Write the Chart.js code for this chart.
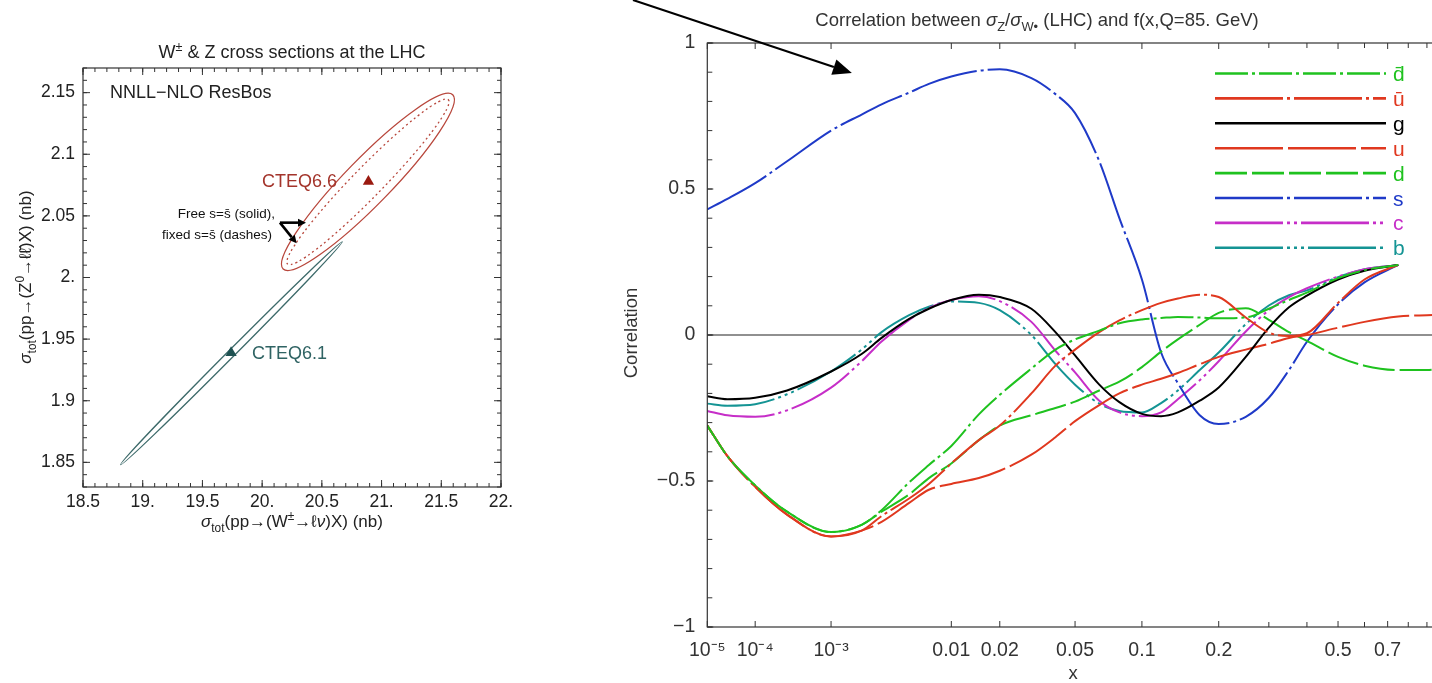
<!DOCTYPE html>
<html>
<head>
<meta charset="utf-8">
<script src="https://cdn.jsdelivr.net/npm/chart.js@4/dist/chart.umd.min.js"></script>
<style>
  html, body { margin: 0; padding: 0; background: #fff; overflow: hidden; width: 1432px; height: 683px; }
  #wz { position: absolute; left: 0; top: 0; }
  #corr { position: absolute; left: 600px; top: 0; }
</style>
</head>
<body>
<canvas id="wz" width="540" height="560"></canvas>
<canvas id="corr" width="860" height="683"></canvas>
<script>
// ---------------- left panel: W and Z cross sections ----------------
const wzXTicks = [18.5, 19, 19.5, 20, 20.5, 21, 21.5, 22];
const wzXTickLabels = ['18.5', '19.', '19.5', '20.', '20.5', '21.', '21.5', '22.'];
const wzYTicks = [1.85, 1.9, 1.95, 2.0, 2.05, 2.1, 2.15];
const wzYTickLabels = ['1.85', '1.9', '1.95', '2.', '2.05', '2.1', '2.15'];
const cteq66Central = [20.89, 2.078];
const cteq61Central = [19.74, 1.939];
// error ellipses: [centre, end of major axis, end of minor axis] in nb
const cteq66Free = [[20.886, 2.0776], [21.596, 2.1483], [21.022, 2.0644]];
const cteq66Fixed = [[20.886, 2.0776], [21.559, 2.1443], [20.975, 2.0690]];
const cteq61Free = [[19.743, 1.9385], [20.671, 2.029], [19.764, 1.9365]];
const noteArrowTail = [20.149, 2.0445];
const noteArrowHeads = [[20.367, 2.0445], [20.289, 2.0277]];

// ---------------- right panel: correlation cosines ----------------
const xGrid = [1e-5, 3e-5, 1e-4, 3e-4, 1e-3, 2e-3, 3e-3, 5e-3, 7e-3, 0.01, 0.015, 0.02, 0.03, 0.04,
               0.05, 0.065, 0.08, 0.1, 0.12, 0.14, 0.17, 0.2, 0.25, 0.3, 0.35, 0.4, 0.5, 0.6, 0.75];
const xGridLong = xGrid.concat([0.9, 1.0]);
const dbarCorr = [-0.31, -0.415, -0.515, -0.605, -0.675, -0.65, -0.6, -0.505, -0.445, -0.38, -0.272, -0.205, -0.115, -0.05,
                  -0.015, 0.015, 0.04, 0.053, 0.058, 0.062, 0.06, 0.057, 0.06, 0.09, 0.12, 0.145, 0.195, 0.222, 0.24];
const ubarCorr = [-0.31, -0.415, -0.52, -0.615, -0.69, -0.67, -0.62, -0.56, -0.51, -0.44, -0.36, -0.31, -0.2, -0.105,
                  -0.05, 0.01, 0.05, 0.085, 0.11, 0.125, 0.138, 0.13, 0.06, 0.008, -0.003, 0.006, 0.11, 0.19, 0.24];
const gCorr = [-0.21, -0.22, -0.215, -0.19, -0.125, -0.065, -0.01, 0.055, 0.09, 0.12, 0.138, 0.13, 0.09, 0.01,
               -0.07, -0.17, -0.23, -0.27, -0.278, -0.265, -0.225, -0.18, -0.075, 0.025, 0.095, 0.135, 0.19, 0.22, 0.24];
const uCorr = [-0.31, -0.415, -0.52, -0.615, -0.69, -0.67, -0.64, -0.575, -0.53, -0.51, -0.49, -0.465, -0.41, -0.35,
               -0.295, -0.24, -0.2, -0.17, -0.15, -0.13, -0.1, -0.075, -0.05, -0.03, -0.01, 0.0, 0.025, 0.045, 0.063, 0.068, 0.07];
const dCorr = [-0.31, -0.415, -0.515, -0.605, -0.675, -0.65, -0.605, -0.546, -0.49, -0.44, -0.36, -0.31, -0.275, -0.25,
               -0.228, -0.19, -0.16, -0.11, -0.057, -0.015, 0.035, 0.076, 0.092, 0.052, 0.01, -0.02, -0.075, -0.105, -0.12, -0.12, -0.115];
const sCorr = [0.43, 0.466, 0.52, 0.595, 0.70, 0.755, 0.79, 0.83, 0.86, 0.885, 0.905, 0.91, 0.88, 0.825,
               0.76, 0.595, 0.40, 0.19, -0.06, -0.165, -0.275, -0.305, -0.28, -0.215, -0.12, -0.023, 0.105, 0.18, 0.24];
const cCorr = [-0.26, -0.275, -0.28, -0.258, -0.18, -0.09, -0.022, 0.052, 0.093, 0.12, 0.133, 0.116, 0.045, -0.054,
               -0.128, -0.225, -0.265, -0.278, -0.265, -0.22, -0.155, -0.09, 0.012, 0.085, 0.13, 0.16, 0.2, 0.225, 0.24];
const bCorr = [-0.235, -0.242, -0.237, -0.203, -0.125, -0.05, 0.01, 0.068, 0.097, 0.115, 0.11, 0.085, 0.0, -0.1,
               -0.17, -0.235, -0.26, -0.265, -0.233, -0.19, -0.12, -0.06, 0.037, 0.101, 0.136, 0.153, 0.198, 0.225, 0.24];
const corrXTicks = [1e-5, 1e-4, 1e-3, 0.01, 0.02, 0.05, 0.1, 0.2, 0.5, 0.7];
const corrXTickLabels = ['10\u207B\u2075', '10\u207B\u2074', '10\u207B\u00B3', '0.01', '0.02', '0.05', '0.1', '0.2', '0.5', '0.7'];
const corrXMinor = [0.3, 0.4, 0.6, 0.8, 0.9, 1.0];
const corrYTicks = [-1, -0.5, 0, 0.5, 1];
const corrYTickLabels = ['\u22121', '\u22120.5', '0', '0.5', '1'];
const pointerTail = [6.65e-11, 1.147];
const pointerTip = [0.00162, 0.897];

// ---------- helpers ----------
function drawRich(ctx, segs, x, y, o) {
  const size = o.size, fam = o.family;
  ctx.save();
  ctx.translate(x, y);
  if (o.rotate) ctx.rotate(o.rotate);
  if (o.sx) ctx.scale(o.sx, 1);
  ctx.fillStyle = o.color || '#222';
  ctx.textBaseline = 'alphabetic';
  ctx.textAlign = 'left';
  const fontOf = s => (s.it ? 'italic ' : '') + ((s.sub || s.sup) ? size * 0.7 : size) + 'px ' + fam;
  let total = 0;
  const widths = segs.map(s => { ctx.font = fontOf(s); const w = ctx.measureText(s.t).width; total += w; return w; });
  let cx = o.align === 'center' ? -total / 2 : (o.align === 'right' ? -total : 0);
  const base = size * 0.36;
  segs.forEach((s, i) => {
    ctx.font = fontOf(s);
    const dy = s.sub ? size * 0.28 : (s.sup ? -size * 0.42 : 0);
    ctx.fillText(s.t, cx, base + dy);
    cx += widths[i];
  });
  ctx.restore();
}

function arrow(ctx, x0, y0, x1, y1, len, half, width) {
  const ang = Math.atan2(y1 - y0, x1 - x0);
  const bx = x1 - len * Math.cos(ang), by = y1 - len * Math.sin(ang);
  ctx.lineWidth = width;
  ctx.beginPath(); ctx.moveTo(x0, y0); ctx.lineTo(bx, by); ctx.stroke();
  ctx.beginPath();
  ctx.moveTo(x1, y1);
  ctx.lineTo(bx + half * Math.sin(ang), by - half * Math.cos(ang));
  ctx.lineTo(bx - half * Math.sin(ang), by + half * Math.cos(ang));
  ctx.closePath(); ctx.fill();
}

// inward tick marks on all four sides plus the frame
const frameTicks = {
  id: 'frameTicks',
  afterDatasetsDraw(chart, args, o) {
    const { ctx, chartArea: a, scales } = chart;
    ctx.save();
    ctx.strokeStyle = o.color; ctx.lineWidth = 1;
    const X = scales.x, Y = scales.y;
    const vx = (v, len) => { const p = X.getPixelForValue(v);
      ctx.beginPath(); ctx.moveTo(p, a.bottom); ctx.lineTo(p, a.bottom - len);
      ctx.moveTo(p, a.top); ctx.lineTo(p, a.top + len); ctx.stroke(); };
    const vy = (v, len) => { const p = Y.getPixelForValue(v);
      ctx.beginPath(); ctx.moveTo(a.left, p); ctx.lineTo(a.left + len, p);
      ctx.moveTo(a.right, p); ctx.lineTo(a.right - len, p); ctx.stroke(); };
    o.xMajor.forEach(v => vx(v, o.majorLen));
    o.xMinor.forEach(v => vx(v, o.minorLen));
    o.yMajor.forEach(v => vy(v, o.majorLen));
    o.yMinor.forEach(v => vy(v, o.minorLen));
    ctx.lineWidth = o.frameWidth;
    ctx.strokeRect(a.left, a.top, a.right - a.left, a.bottom - a.top);
    ctx.restore();
  }
};

// free-standing texts
const richText = {
  id: 'richText',
  afterDraw(chart, args, o) {
    o.items.forEach(it => drawRich(chart.ctx, it.segs, it.x, it.y, Object.assign({ family: o.family }, it)));
  }
};

// ---------- left chart ----------
const wzEllipses = {
  id: 'wzEllipses',
  beforeDatasetsDraw(chart, args, o) {
    const { ctx, scales: { x, y } } = chart;
    const P = d => [x.getPixelForValue(d[0]), y.getPixelForValue(d[1])];
    ctx.save();
    o.items.forEach(e => {
      const c = P(e.pts[0]), t = P(e.pts[1]), m = P(e.pts[2]);
      const ra = Math.hypot(t[0] - c[0], t[1] - c[1]);
      const rb = Math.hypot(m[0] - c[0], m[1] - c[1]);
      const rot = Math.atan2(t[1] - c[1], t[0] - c[0]);
      ctx.strokeStyle = e.color; ctx.lineWidth = e.width; ctx.setLineDash(e.dash || []);
      ctx.beginPath(); ctx.ellipse(c[0], c[1], ra, rb, rot, 0, Math.PI * 2); ctx.stroke();
    });
    ctx.setLineDash([]);
    ctx.strokeStyle = '#000'; ctx.fillStyle = '#000';
    const t0 = P(o.tail);
    o.heads.forEach(h => { const p = P(h); arrow(ctx, t0[0], t0[1], p[0], p[1], 8, 4, 2.6); });
    ctx.restore();
  }
};

const wzMinorX = []; for (let i = 0; i <= 35; i++) wzMinorX.push(18.5 + i * 0.1);
const wzMinorY = []; for (let i = 0; i <= 34; i++) wzMinorY.push(1.83 + i * 0.01);
const sansFam = '"Liberation Sans", Arial, sans-serif';

new Chart(document.getElementById('wz'), {
  type: 'scatter',
  data: {
    datasets: [
      { label: 'CTEQ6.6', data: [{ x: cteq66Central[0], y: cteq66Central[1] }], pointStyle: 'triangle',
        pointRadius: 6.5, backgroundColor: '#9a1a10', borderWidth: 0 },
      { label: 'CTEQ6.1', data: [{ x: cteq61Central[0], y: cteq61Central[1] }], pointStyle: 'triangle',
        pointRadius: 6.5, backgroundColor: '#1f5252', borderWidth: 0 }
    ]
  },
  options: {
    responsive: false, animation: false, devicePixelRatio: 1,
    layout: { padding: { left: 0, right: 39, top: 68, bottom: 0 } },
    plugins: {
      legend: { display: false }, tooltip: { enabled: false }, title: { display: false },
      wzEllipses: {
        items: [
          { pts: cteq66Free, color: '#b8473c', width: 1.3 },
          { pts: cteq66Fixed, color: '#b8473c', width: 1.3, dash: [2, 3] },
          { pts: cteq61Free, color: '#3d6a6a', width: 1.3 }
        ],
        tail: noteArrowTail, heads: noteArrowHeads
      },
      frameTicks: { color: '#333', frameWidth: 1.2, majorLen: 7, minorLen: 4,
        xMajor: wzXTicks, xMinor: wzMinorX, yMajor: wzYTicks, yMinor: wzMinorY },
      richText: {
        family: sansFam,
        items: [
          { segs: [{ t: 'W' }, { t: '\u00B1', sup: true }, { t: ' & Z cross sections at the LHC' }], x: 292, y: 52, size: 18, align: 'center', color: '#222' },
          { segs: [{ t: 'NNLL\u2212NLO ResBos' }], x: 110, y: 92, size: 18, align: 'left', color: '#222' },
          { segs: [{ t: 'CTEQ6.6' }], x: 262, y: 181, size: 18, align: 'left', color: '#a3342b' },
          { segs: [{ t: 'CTEQ6.1' }], x: 252, y: 353, size: 18, align: 'left', color: '#2f6363' },
          { segs: [{ t: 'Free s=s\u0304 (solid),' }], x: 275, y: 213, size: 13.5, align: 'right', color: '#111' },
          { segs: [{ t: 'fixed s=s\u0304 (dashes)' }], x: 272, y: 234, size: 13.5, align: 'right', color: '#111' },
          { segs: [{ t: '\u03C3', it: true }, { t: 'tot', sub: true }, { t: '(pp\u2192(W' }, { t: '\u00B1', sup: true },
                   { t: '\u2192\u2113' }, { t: '\u03BD', it: true }, { t: ')X) (nb)' }], x: 292, y: 521, size: 17, align: 'center', color: '#222' },
          { segs: [{ t: '\u03C3', it: true }, { t: 'tot', sub: true }, { t: '(pp\u2192(Z' }, { t: '0', sup: true },
                   { t: '\u2192\u2113\u2113\u0304)X) (nb)' }], x: 25, y: 277, size: 17, align: 'center', rotate: -Math.PI / 2, color: '#222' }
        ]
      }
    },
    scales: {
      x: { type: 'linear', min: 18.5, max: 22,
        afterFit: s => { s.height = 73; },
        afterBuildTicks: s => { s.ticks = wzXTicks.map(v => ({ value: v })); },
        grid: { display: false, drawTicks: false }, border: { display: false },
        ticks: { autoSkip: false, maxRotation: 0, padding: 5, color: '#222',
          font: { family: sansFam, size: 17.5 }, callback: (v, i) => wzXTickLabels[i] } },
      y: { type: 'linear', min: 1.83, max: 2.17,
        afterFit: s => { s.width = 83; },
        afterBuildTicks: s => { s.ticks = wzYTicks.map(v => ({ value: v })); },
        grid: { display: false, drawTicks: false }, border: { display: false },
        ticks: { autoSkip: false, padding: 8, color: '#222',
          font: { family: sansFam, size: 17.5 }, callback: (v, i) => wzYTickLabels[i] } }
    }
  },
  plugins: [wzEllipses, frameTicks, richText]
});

// ---------- right chart ----------
// x axis drawn uniformly in x^p
class PowerScale extends Chart.LinearScale {
  determineDataLimits() { this.min = this.options.min; this.max = this.options.max; }
  buildTicks() { this.start = this.min; this.end = this.max; return (this.options.tickValues || []).map(v => ({ value: v })); }
  configure() {
    super.configure();
    const p = this.options.exponent;
    this._startValue = Math.pow(this.min, p);
    this._endValue = Math.pow(this.max, p);
    this._valueRange = this._endValue - this._startValue;
  }
  getPixelForValue(v) {
    const p = this.options.exponent;
    return this.getPixelForDecimal((Math.pow(v, p) - this._startValue) / this._valueRange);
  }
  getValueForPixel(px) {
    const p = this.options.exponent;
    return Math.pow(this._startValue + this.getDecimalForPixel(px) * this._valueRange, 1 / p);
  }
}
PowerScale.id = 'power';
Chart.register(PowerScale);

const corrLegend = {
  id: 'corrLegend',
  afterDatasetsDraw(chart, args, o) {
    const { ctx } = chart;
    ctx.save();
    o.order.forEach((idx, k) => {
      const ds = chart.data.datasets[idx];
      const y = o.y0 + k * o.dy;
      ctx.strokeStyle = ds.borderColor; ctx.lineWidth = 2.6; ctx.setLineDash(ds.borderDash || []);
      ctx.beginPath(); ctx.moveTo(o.x0, y); ctx.lineTo(o.x1, y); ctx.stroke();
      ctx.setLineDash([]);
      drawRich(ctx, [{ t: ds.label }], o.x1 + 7, y, { size: o.size, family: o.family, color: ds.borderColor, align: 'left' });
    });
    // pointer arrow
    const X = chart.scales.x, Y = chart.scales.y;
    ctx.strokeStyle = '#000'; ctx.fillStyle = '#000';
    arrow(ctx, X.getPixelForValue(o.tail[0]), Y.getPixelForValue(o.tail[1]),
          X.getPixelForValue(o.tip[0]), Y.getPixelForValue(o.tip[1]), 19, 8, 2.2);
    ctx.restore();
  }
};

const zeroLine = {
  id: 'zeroLine',
  beforeDatasetsDraw(chart) {
    const { ctx, chartArea: a } = chart;
    const p = chart.scales.y.getPixelForValue(0);
    ctx.save(); ctx.strokeStyle = '#222'; ctx.lineWidth = 1.2;
    ctx.beginPath(); ctx.moveTo(a.left, p); ctx.lineTo(a.right, p); ctx.stroke(); ctx.restore();
  }
};

const narrowFam = '"Liberation Sans Narrow", "Liberation Sans", Arial, sans-serif';
const GREEN = '#1fc21f', RED = '#e0381f', BLUE = '#1f3ac8', MAGENTA = '#c62ec8', TEAL = '#149494';
const curve = (label, xs, ys, color, dash) => ({
  label, data: xs.map((x, i) => ({ x, y: ys[i] })), borderColor: color, borderDash: dash,
  borderWidth: 2, pointRadius: 0, fill: false, cubicInterpolationMode: 'monotone'
});
const corrMinorY = []; for (let i = -10; i <= 10; i++) corrMinorY.push(i / 10);

new Chart(document.getElementById('corr'), {
  type: 'line',
  data: {
    datasets: [
      curve('d\u0304', xGrid, dbarCorr, GREEN, [33, 4, 3, 4]),
      curve('u\u0304', xGrid, ubarCorr, RED, [68, 4, 3, 4]),
      curve('g', xGrid, gCorr, '#000', []),
      curve('u', xGridLong, uCorr, RED, [68, 5]),
      curve('d', xGridLong, dCorr, GREEN, [32, 5]),
      curve('s', xGrid, sCorr, BLUE, [68, 4, 3, 4]),
      curve('c', xGrid, cCorr, MAGENTA, [68, 4, 3, 4, 3, 4]),
      curve('b', xGrid, bCorr, TEAL, [68, 4, 3, 4, 3, 4, 3, 4])
    ]
  },
  options: {
    responsive: false, animation: false, devicePixelRatio: 1,
    layout: { padding: { left: 0, right: 16, top: 43, bottom: 0 } },
    plugins: {
      legend: { display: false }, tooltip: { enabled: false }, title: { display: false },
      frameTicks: { color: '#333', frameWidth: 1.2, majorLen: 6, minorLen: 5,
        xMajor: corrXTicks, xMinor: corrXMinor, yMajor: corrYTicks, yMinor: corrMinorY },
      corrLegend: { order: [0, 1, 2, 3, 4, 5, 6, 7], x0: 615, x1: 786, y0: 73.5, dy: 24.9, size: 21, family: narrowFam,
        tail: pointerTail, tip: pointerTip },
      richText: {
        family: narrowFam,
        items: [
          { segs: [{ t: 'Correlation between ' }, { t: '\u03C3', it: true }, { t: 'Z', sub: true }, { t: '/' },
                   { t: '\u03C3', it: true }, { t: 'W\u2022', sub: true }, { t: ' (LHC) and f(x,Q=85. GeV)' }],
            x: 437, y: 19, size: 18.5, align: 'center', color: '#333' },
          { segs: [{ t: 'Correlation' }], x: 30, y: 333, size: 18.5, align: 'center', rotate: -Math.PI / 2, color: '#333' },
          { segs: [{ t: 'x' }], x: 473, y: 672, size: 18.5, align: 'center', color: '#333' }
        ]
      }
    },
    scales: {
      x: { type: 'power', exponent: 0.2, min: 1e-5, max: 1, tickValues: corrXTicks,
        afterFit: s => { s.height = 56; },
        grid: { display: false, drawTicks: false }, border: { display: false },
        ticks: { autoSkip: false, maxRotation: 0, padding: 12, color: '#333',
          font: { family: narrowFam, size: 19.5 }, callback: (v, i) => corrXTickLabels[i] } },
      y: { type: 'linear', min: -1, max: 1,
        afterFit: s => { s.width = 107.3; },
        afterBuildTicks: s => { s.ticks = corrYTicks.map(v => ({ value: v })); },
        grid: { display: false, drawTicks: false }, border: { display: false },
        ticks: { autoSkip: false, padding: 12, color: '#333',
          font: { family: narrowFam, size: 19.5 }, callback: (v, i) => corrYTickLabels[i] } }
    }
  },
  plugins: [zeroLine, frameTicks, corrLegend, richText]
});
</script>
</body>
</html>
